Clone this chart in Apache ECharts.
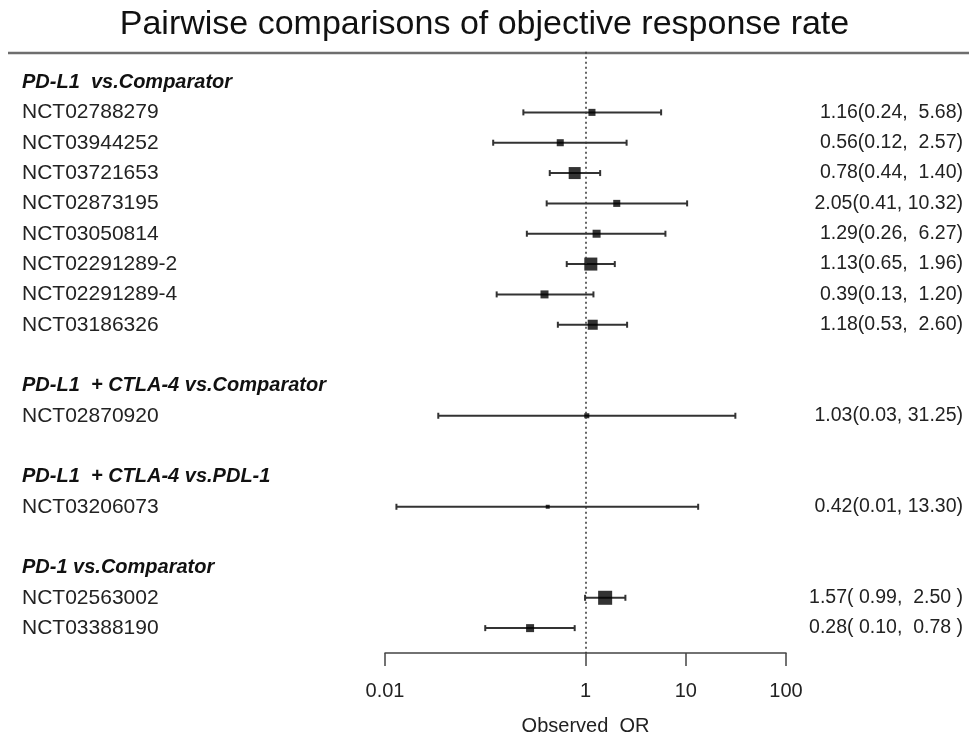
<!DOCTYPE html>
<html>
<head>
<meta charset="utf-8">
<script src="https://cdn.jsdelivr.net/npm/echarts@6/dist/echarts.min.js"></script>
<style>html,body{margin:0;padding:0;background:#fff}#c{width:969px;height:744px}</style>
</head>
<body>
<div id="c"></div>
<script>
// ---- data ----
const groupHeaders = ["PD-L1  vs.Comparator", "PD-L1  + CTLA-4 vs.Comparator", "PD-L1  + CTLA-4 vs.PDL-1", "PD-1 vs.Comparator"];
const headerRows = [0, 10, 13, 16];
const studies = ["NCT02788279","NCT03944252","NCT03721653","NCT02873195","NCT03050814","NCT02291289-2","NCT02291289-4","NCT03186326","NCT02870920","NCT03206073","NCT02563002","NCT03388190"];
const studyRows = [1, 2, 3, 4, 5, 6, 7, 8, 11, 14, 17, 18];
const oddsRatio = [1.16, 0.56, 0.78, 2.05, 1.29, 1.13, 0.39, 1.18, 1.03, 0.42, 1.57, 0.28];
const ciLower = [0.24, 0.12, 0.44, 0.41, 0.26, 0.65, 0.13, 0.53, 0.034, 0.013, 0.99, 0.10];
const ciUpper = [5.68, 2.57, 1.40, 10.32, 6.27, 1.96, 1.20, 2.60, 31.25, 13.30, 2.50, 0.78];
const weights = [3.1, 3.1, 9.0, 3.1, 4.0, 10.6, 4.0, 6.3, 1.6, 1.0, 12.3, 4.0];
const ciLabels = ["1.16(0.24,  5.68)","0.56(0.12,  2.57)","0.78(0.44,  1.40)","2.05(0.41, 10.32)","1.29(0.26,  6.27)","1.13(0.65,  1.96)","0.39(0.13,  1.20)","1.18(0.53,  2.60)","1.03(0.03, 31.25)","0.42(0.01, 13.30)","1.57( 0.99,  2.50 )","0.28( 0.10,  0.78 )"];
const xTicks = [0.01, 1, 10, 100];

// ---- build ----
const leftText = {}, rightText = {};
headerRows.forEach((r, i) => { leftText[r] = '{h|' + groupHeaders[i] + '}'; });
studyRows.forEach((r, i) => { leftText[r] = '{s|' + studies[i] + '}'; rightText[r] = ciLabels[i]; });

const FONT = '"Liberation Sans", Arial, Helvetica, sans-serif';
const ciData = studyRows.map((r, i) => [ciLower[i], ciUpper[i], r]);
const ptData = studyRows.map((r, i) => ({ value: [oddsRatio[i], r], symbolSize: 4 * Math.sqrt(weights[i]) }));

const chart = echarts.init(document.getElementById('c'), null, { renderer: 'canvas' });
const yCommon = {
  type: 'value', inverse: true, min: -1, max: 18.82, interval: 1,
  axisLine: { show: false }, axisTick: { show: false }, splitLine: { show: false }
};
chart.setOption({
  animation: false,
  backgroundColor: '#fff',
  title: {
    text: 'Pairwise comparisons of objective response rate',
    left: 'center', top: 3,
    textStyle: { fontFamily: FONT, fontSize: 34, fontWeight: 'normal', color: '#111' }
  },
  graphic: [{
    type: 'line', shape: { x1: 8, y1: 53, x2: 969, y2: 53 },
    style: { stroke: '#6e6e6e', lineWidth: 2.5 }, silent: true
  }],
  grid: { left: 385, right: 183, top: 51.7, bottom: 91, containLabel: false },
  xAxis: {
    type: 'log', logBase: 10, min: 0.01, max: 100, position: 'bottom',
    name: 'Observed  OR', nameLocation: 'middle', nameGap: 63,
    nameTextStyle: { fontFamily: FONT, fontSize: 20, color: '#222' },
    axisLine: { show: true, onZero: false, lineStyle: { color: '#444', width: 1.5 } },
    axisTick: { show: true, length: 13, customValues: xTicks, lineStyle: { color: '#444', width: 1.5 } },
    axisLabel: { customValues: xTicks, margin: 28, fontFamily: FONT, fontSize: 20, color: '#222',
      formatter: v => String(+(+v).toPrecision(6)) },
    splitLine: { show: false }, minorTick: { show: false }
  },
  yAxis: [
    Object.assign({}, yCommon, {
      position: 'left',
      axisLabel: {
        align: 'left', margin: 363,
        formatter: v => (Number.isInteger(v) && leftText[v]) ? leftText[v] : '',
        rich: {
          h: { fontFamily: FONT, fontSize: 20, fontWeight: 'bold', fontStyle: 'italic', color: '#111' },
          s: { fontFamily: FONT, fontSize: 21, color: '#222' }
        }
      }
    }),
    Object.assign({}, yCommon, {
      position: 'right',
      axisLabel: {
        align: 'right', margin: 177, fontFamily: FONT, fontSize: 19.5, color: '#222',
        formatter: v => (Number.isInteger(v) && rightText[v]) ? rightText[v] : ''
      }
    })
  ],
  series: [
    {
      type: 'custom', name: 'CI', yAxisIndex: 0, silent: true,
      encode: { x: [0, 1], y: 2 },
      data: ciData,
      renderItem: (params, api) => {
        const y = api.value(2);
        const a = api.coord([api.value(0), y]);
        const b = api.coord([api.value(1), y]);
        const st = { stroke: '#333', lineWidth: 2 };
        return {
          type: 'group', children: [
            { type: 'line', shape: { x1: a[0], y1: a[1], x2: b[0], y2: b[1] }, style: st },
            { type: 'line', shape: { x1: a[0], y1: a[1] - 3, x2: a[0], y2: a[1] + 3 }, style: st },
            { type: 'line', shape: { x1: b[0], y1: b[1] - 3, x2: b[0], y2: b[1] + 3 }, style: st }
          ]
        };
      }
    },
    {
      type: 'scatter', name: 'OR', yAxisIndex: 0, silent: true,
      symbol: 'rect', itemStyle: { color: '#000' },
      data: ptData,
      markLine: {
        silent: true, symbol: 'none', label: { show: false },
        lineStyle: { type: [2, 3], color: '#333', width: 1.5 },
        data: [{ xAxis: 1 }]
      },
      z: 3
    }
  ]
});
</script>
</body>
</html>
